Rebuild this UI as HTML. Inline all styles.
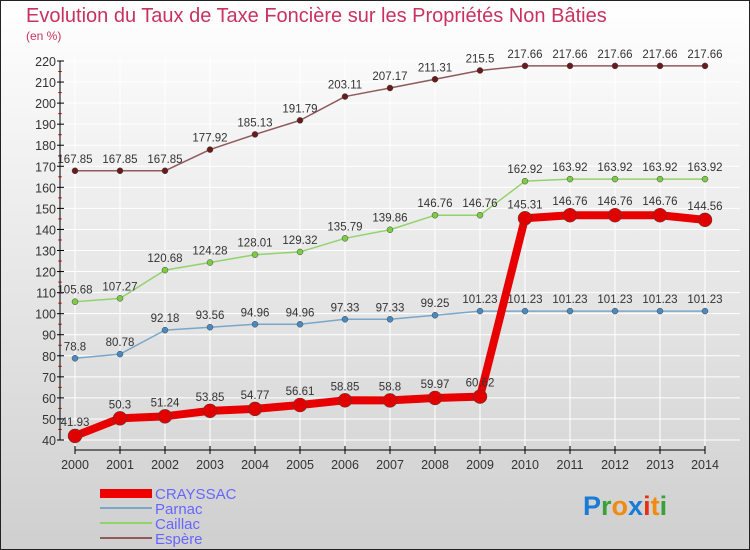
<!DOCTYPE html>
<html><head><meta charset="utf-8"><style>
body{margin:0}
svg{display:block;font-family:"Liberation Sans",sans-serif}
</style></head><body>
<svg id="c" width="750" height="550" xmlns="http://www.w3.org/2000/svg">
<defs><linearGradient id="bg" x1="0" y1="0" x2="0" y2="1"><stop offset="0" stop-color="#ffffff"/><stop offset="1" stop-color="#cfcfcf"/></linearGradient></defs>
<rect x="0.5" y="0.5" width="749" height="549" fill="url(#bg)" stroke="#222"/>
<text x="26" y="22" font-size="20" fill="#c8325e">Evolution du Taux de Taxe Foncière sur les Propriétés Non Bâties</text>
<text x="26" y="40" font-size="12" fill="#c8325e">(en %)</text>
<g id="grid"></g><g id="axes"></g><g id="series"></g>
<g>
<rect x="100" y="489" width="52" height="9" fill="#e00"/>
<text x="155" y="499" font-size="15" fill="#6666ff">CRAYSSAC</text>
<line x1="100" y1="508" x2="152" y2="508" stroke="#7aa7c7" stroke-width="2"/>
<text x="155" y="514" font-size="15" fill="#6666ff">Parnac</text>
<line x1="100" y1="523" x2="152" y2="523" stroke="#93d26a" stroke-width="2"/>
<text x="155" y="529" font-size="15" fill="#6666ff">Caillac</text>
<line x1="100" y1="538" x2="152" y2="538" stroke="#8e5a5a" stroke-width="2"/>
<text x="155" y="544" font-size="15" fill="#6666ff">Espère</text>
</g>
<g font-size="27" font-weight="bold">
<text x="583" y="515"><tspan fill="#1a7bd6">P</tspan><tspan fill="#3aa03a">r</tspan><tspan fill="#f08a10">o</tspan><tspan fill="#1a7bd6">x</tspan><tspan fill="#e83010">i</tspan><tspan fill="#f08a10">t</tspan><tspan fill="#3aa03a">i</tspan></text>
</g>
</svg>
<script>
const years=[2000,2001,2002,2003,2004,2005,2006,2007,2008,2009,2010,2011,2012,2013,2014];
const crayssac=[41.93,50.3,51.24,53.85,54.77,56.61,58.85,58.8,59.97,60.62,145.31,146.76,146.76,146.76,144.56];
const parnac=[78.8,80.78,92.18,93.56,94.96,94.96,97.33,97.33,99.25,101.23,101.23,101.23,101.23,101.23,101.23];
const caillac=[105.68,107.27,120.68,124.28,128.01,129.32,135.79,139.86,146.76,146.76,162.92,163.92,163.92,163.92,163.92];
const espere=[167.85,167.85,167.85,177.92,185.13,191.79,203.11,207.17,211.31,215.5,217.66,217.66,217.66,217.66,217.66];
const yTicks=[40,50,60,70,80,90,100,110,120,130,140,150,160,170,180,190,200,210,220];
const NS='http://www.w3.org/2000/svg';
const X=i=>75+i*45;
const Y=v=>440-(v-40)*379/180;
function mk(p,tag,a){const e=document.createElementNS(NS,tag);for(const k in a)e.setAttribute(k,a[k]);p.appendChild(e);return e;}
const grid=document.getElementById('grid'),axes=document.getElementById('axes'),ser=document.getElementById('series');
yTicks.forEach((v,k)=>{
 const g=mk(grid,'line',{x1:60,x2:740,y1:Y(v),y2:Y(v),stroke:'#ffffff','stroke-width':1});
 
 
 const t=mk(axes,'line',{x1:57,x2:64,y1:Y(v),y2:Y(v),stroke:'#000'});
 
 
 if(k<yTicks.length-1){
  const m=mk(axes,'line',{x1:58,x2:62,y1:Y(v+5),y2:Y(v+5),stroke:'#e33'});
  
  
 }
 const l=mk(axes,'text',{x:56,y:Y(v)+5,'text-anchor':'end','font-size':12.5,fill:'#333'});
 l.textContent=v;
 
 
});
years.forEach((y,i)=>{
 const g=mk(grid,'line',{x1:X(i),x2:X(i),y1:55,y2:450,stroke:'#ffffff'});
 
 
 const t=mk(axes,'line',{x1:X(i),x2:X(i),y1:446,y2:454,stroke:'#000'});
 
 
 const l=mk(axes,'text',{x:X(i),y:469,'text-anchor':'middle','font-size':12.5,fill:'#333'});
 l.textContent=y;
 
 
});
const ya=mk(axes,'line',{x1:60,x2:60,y1:Y(220),y2:Y(40),stroke:'#000'});


const xa=mk(axes,'line',{x1:75,x2:705,y1:450,y2:450,stroke:'#000'});


function draw(name,vals,col,w,r,dot){
 const g=mk(ser,'g',{});
 
 
 const p=mk(g,'polyline',{points:vals.map((v,i)=>X(i)+','+Y(v)).join(' '),fill:'none',stroke:col,'stroke-width':w,'stroke-linejoin':'round'});
 
 
 vals.forEach((v,i)=>{
  const c=mk(g,'circle',{cx:X(i),cy:Y(v),r:r,fill:dot,stroke:'#444','stroke-width':0.5});
  
  
  const t=mk(g,'text',{x:X(i),y:Y(v)-(name==='crayssac'?10:8),'text-anchor':'middle','font-size':11.5,fill:'#333'});
  t.textContent=String(v);
  
  
 });
}
draw('espere',espere,'#8e5a5a',1.5,3,'#6a1a1a');
draw('caillac',caillac,'#93d26a',1.5,3,'#7ccc44');
draw('parnac',parnac,'#7aa7c7',1.5,3,'#4a8ac0');
draw('crayssac',crayssac,'#e80000',8,7,'#e00000');
</script>
</body></html>
